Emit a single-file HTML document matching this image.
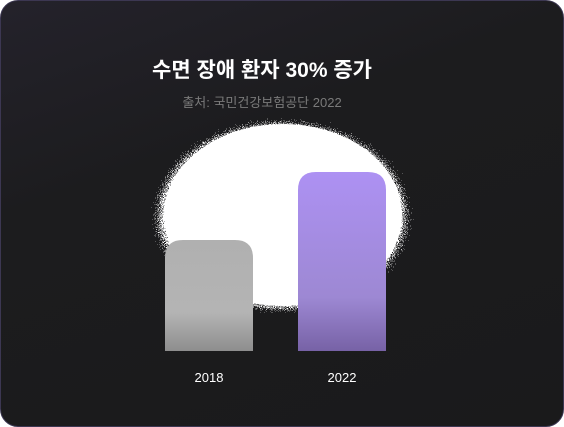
<!DOCTYPE html>
<html><head><meta charset="utf-8"><style>
html,body{margin:0;padding:0;width:564px;height:427px;overflow:hidden;background:#fff}
#card{position:absolute;left:0;top:0;width:562px;height:425px;border:1px solid #3c3752;border-radius:18px;background:linear-gradient(160deg,#24222b 0%,#1c1c1e 35%,#1a1a1b 100%);overflow:hidden}
.t{position:absolute;left:0;width:522px;text-align:center;font-family:"Liberation Sans","Noto Sans CJK KR",sans-serif}
</style></head><body>
<div id="card">
<div class="t" style="top:53px;font-size:21px;font-weight:bold;color:#fff">수면 장애 환자 30% 증가</div>
<div class="t" style="top:91px;font-size:13px;color:#7a7a7a">출처: 국민건강보험공단 2022</div>
<svg id="chart" width="564" height="427" style="position:absolute;left:0;top:0">
<defs>
<filter id="noise" x="-10%" y="-10%" width="120%" height="120%" color-interpolation-filters="sRGB">
<feTurbulence type="fractalNoise" baseFrequency="1.2" numOctaves="2" seed="3" result="n"/>
<feColorMatrix in="n" type="matrix" values="0 0 0 0 0  0 0 0 0 0  0 0 0 0 0  1 0 0 0 0" result="na"/>
<feComposite in="SourceAlpha" in2="na" operator="arithmetic" k1="0" k2="1" k3="-1" k4="0.45" result="d"/>
<feComponentTransfer in="d" result="th"><feFuncA type="discrete" tableValues="0 1"/></feComponentTransfer>
<feFlood flood-color="#fff"/>
<feComposite in2="th" operator="in"/>
</filter>
<radialGradient id="glow"><stop offset="0.78" stop-color="#fff" stop-opacity="0.95"/><stop offset="1" stop-color="#fff" stop-opacity="0"/></radialGradient>
<linearGradient id="g2018" x1="0" y1="0" x2="0" y2="1"><stop offset="0" stop-color="#b0b0b0"/><stop offset="0.65" stop-color="#b4b4b4"/><stop offset="1" stop-color="#8e8e8e"/></linearGradient>
<linearGradient id="g2022" x1="0" y1="0" x2="0" y2="1"><stop offset="0" stop-color="#ad91f3"/><stop offset="0.7" stop-color="#9d88d3"/><stop offset="1" stop-color="#7762a6"/></linearGradient>
</defs>
<ellipse cx="281" cy="215" rx="140" ry="105" fill="url(#glow)" filter="url(#noise)"/>
<ellipse cx="282" cy="214" rx="119" ry="91" fill="#fff"/>
<g id="bars"></g>
</svg>
</div>
<script>
const categories = ["2018", "2022"];
const values = [62, 100];
const fills = ["url(#g2018)", "url(#g2022)"];
const baseY = 350, plotH = 179, barW = 88, x0 = 164, step = 133;
function yScale(v){ return baseY - v / 100 * plotH; }
function xScale(i){ return x0 + i * step; }
const g = document.getElementById('bars');
const ns = "http://www.w3.org/2000/svg";
categories.forEach((c, i) => {
  const x = xScale(i), y = yScale(values[i]), r = 18;
  const p = document.createElementNS(ns, 'path');
  p.setAttribute('d', `M${x},${baseY} V${y + r} Q${x},${y} ${x + r},${y} H${x + barW - r} Q${x + barW},${y} ${x + barW},${y + r} V${baseY} Z`);
  p.setAttribute('fill', fills[i]);
  
  
  g.appendChild(p);
  const t = document.createElementNS(ns, 'text');
  t.setAttribute('x', x + barW / 2);
  t.setAttribute('y', 381);
  t.setAttribute('text-anchor', 'middle');
  t.setAttribute('fill', '#fff');
  t.setAttribute('font-size', '13');
  t.setAttribute('font-family', 'Liberation Sans, sans-serif');
  t.textContent = c;
  
  
  g.appendChild(t);
});
</script>
</body></html>
